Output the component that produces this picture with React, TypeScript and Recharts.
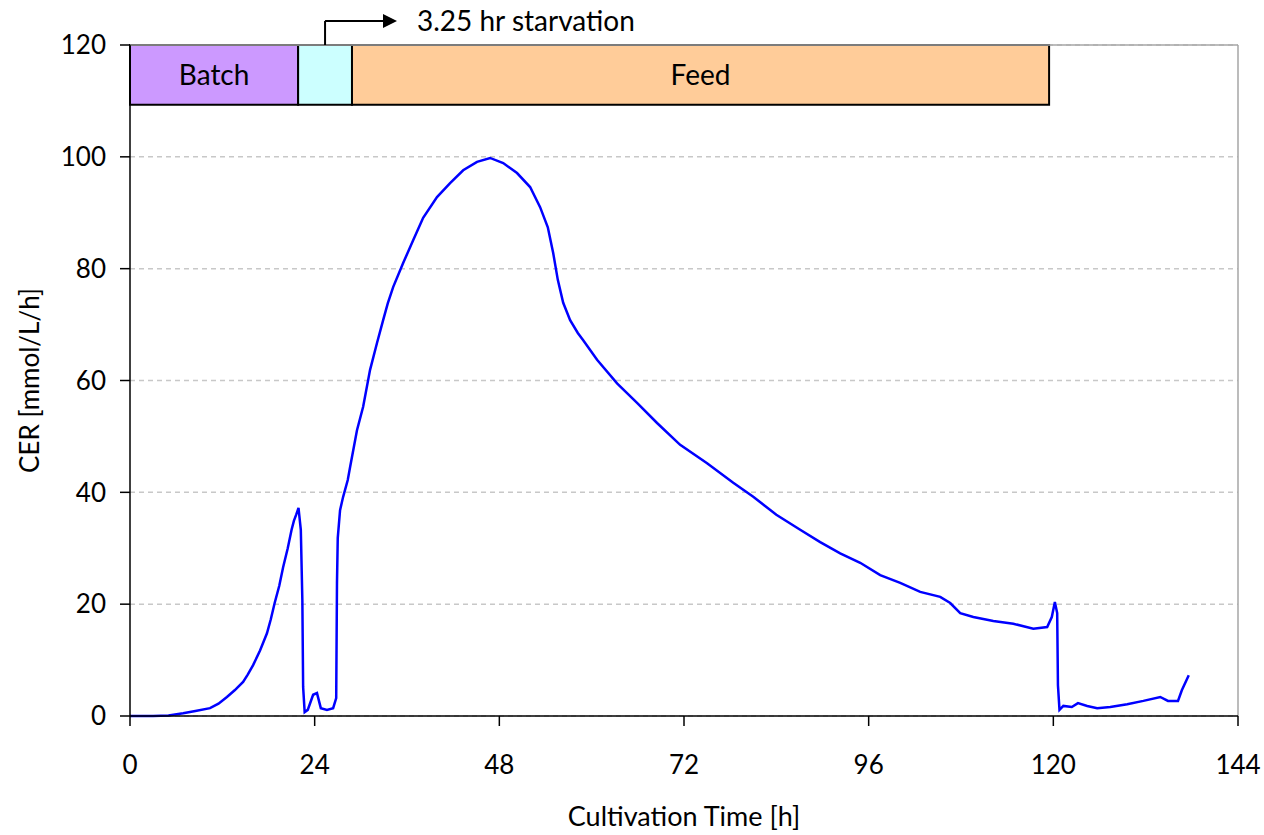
import React from 'react'
import { LineChart, Line, XAxis, YAxis, CartesianGrid, ReferenceArea, ReferenceLine } from 'recharts'

// cultivation time [h] and CER [mmol/L/h]
const time = [
  0, 3, 5, 6.9, 8.5, 10.4, 11.5, 12.6, 13.6, 14.7, 15.3, 16.0, 16.9, 17.8, 18.3, 18.8, 19.4, 19.9, 20.5, 21.0,
  21.3, 21.6, 21.9, 22.2, 22.4, 22.5, 22.7, 23.1, 23.8, 24.3, 24.8, 25.6, 26.4, 26.8, 26.9, 27.0, 27.3, 27.7,
  28.3, 28.6, 29.5, 30.3, 31.2, 32.1, 32.9, 33.5, 34.2, 35.5, 36.8, 38.1, 39.9, 41.6, 43.3, 45.1, 46.8, 48.5,
  50.3, 52.0, 53.3, 54.3, 55.0, 55.6, 56.3, 57.2, 58.2, 58.9, 60.7, 63.3, 65.9, 68.5, 71.5, 75.0, 78.4, 81.0,
  84, 87.1, 89.7, 92.3, 94.9, 97.5, 100.1, 102.7, 105.3, 106.6, 107.9, 109.6, 112.2, 114.8, 117.4, 119.2, 119.8,
  120.2, 120.5, 120.6, 120.8, 121.3, 122.4, 123.2, 124.4, 125.7, 127.4, 129.6, 131.7, 133.9, 134.9, 136.2,
  136.7, 137.6,
]
const cer = [
  0, 0, 0.1, 0.5, 0.9, 1.4, 2.2, 3.4, 4.6, 6.1, 7.4, 9.1, 11.7, 14.8, 17.3, 20.2, 23.3, 26.6, 30.0, 33.3,
  34.9, 36.0, 37.2, 33.3, 20.7, 5.2, 0.7, 1.1, 3.8, 4.1, 1.4, 1.1, 1.4, 3.2, 23.8, 31.8, 36.8, 39.2,
  42.2, 44.5, 51.1, 55.3, 61.9, 66.7, 70.8, 73.8, 76.7, 81.0, 85.1, 89.1, 92.8, 95.3, 97.6, 99.1, 99.8, 98.9,
  97.1, 94.6, 91.0, 87.4, 82.8, 78.0, 73.9, 70.8, 68.5, 67.2, 63.7, 59.5, 56.0, 52.4, 48.5, 45.2, 41.7, 39.2,
  36.0, 33.3, 31.1, 29.1, 27.4, 25.2, 23.8, 22.2, 21.3, 20.2, 18.4, 17.7, 17.0, 16.5, 15.6, 15.9, 17.7,
  20.4, 18.4, 5.5, 1.1, 1.8, 1.6, 2.3, 1.8, 1.4, 1.6, 2.1, 2.7, 3.4, 2.7, 2.7,
  4.6, 7.3,
]

const xTicks = [0, 24, 48, 72, 96, 120, 144]
const yTicks = [0, 20, 40, 60, 80, 100, 120]

// process phases drawn as the bar along the top
const phaseNames = ['Batch', '', 'Feed']
const phaseStart = [0, 21.85, 28.85]
const phaseEnd = [21.85, 28.85, 119.45]
const phaseColors = ['#CC99FF', '#CCFFFF', '#FFCC99']
const phaseTop = 120
const phaseBottom = 109.3

// starvation callout arrow
const arrowX = 25.35
const arrowTipX = 34.7
const arrowY = 124.3
const arrowLabel = '3.25 hr starvation'

const data = time.map((t, i) => ({ t, cer: cer[i] }))

const FONT = 'Lato, "Open Sans", sans-serif'

const ArrowHead = (props: any) => {
  const { x1, y1, x2, y2 } = props
  return (
    <g>
      <line x1={x1} y1={y1} x2={x2 - 12} y2={y2} stroke="#000" strokeWidth={2} />
      <polygon points={`${x2},${y2} ${x2 - 14},${y2 - 7} ${x2 - 14},${y2 + 7}`} fill="#000" />
      <text x={x2 + 20} y={y2} dy="0.35em" fontSize={28} fill="#000" fontFamily={FONT}>
        {arrowLabel}
      </text>
    </g>
  )
}

export default function App() {
  return (
    <div style={{ position: 'absolute', left: 0, top: 0, background: '#fff' }}>
      <LineChart
        width={1264}
        height={835}
        data={data}
        margin={{ top: 45, right: 26, left: 0, bottom: 0 }}
        style={{ fontFamily: FONT }}
      >
        <CartesianGrid vertical={false} stroke="#c8c8c8" strokeDasharray="5 4" strokeWidth={1.5} />
        <ReferenceLine y={120} stroke="#a6a6a6" strokeWidth={1.5} />
        <ReferenceLine x={144} stroke="#a6a6a6" strokeWidth={1.5} />
        <XAxis
          dataKey="t"
          type="number"
          domain={[0, 144]}
          ticks={xTicks}
          height={119}
          tickSize={10}
          tickMargin={30}
          stroke="#000"
          axisLine={{ stroke: '#000', strokeWidth: 1.5 }}
          tickLine={{ stroke: '#000', strokeWidth: 1.5 }}
          tick={{ fontSize: 26, fill: '#000' }}
          label={{ value: 'Cultivation Time [h]', position: 'insideBottom', offset: 9, fontSize: 27, fill: '#000' }}
        />
        <YAxis
          type="number"
          domain={[0, 120]}
          ticks={yTicks}
          width={130}
          tickSize={10}
          tickMargin={14}
          axisLine={{ stroke: '#000', strokeWidth: 1.5 }}
          tickLine={{ stroke: '#000', strokeWidth: 1.5 }}
          tick={{ fontSize: 26, fill: '#000' }}
          label={{
            value: 'CER [mmol/L/h]',
            angle: -90,
            position: 'insideLeft',
            offset: 30,
            fontSize: 26,
            fill: '#000',
            style: { textAnchor: 'middle' },
          }}
        />
        {phaseNames.map((name, i) => (
          <ReferenceArea
            key={i}
            x1={phaseStart[i]}
            x2={phaseEnd[i]}
            y1={phaseBottom}
            y2={phaseTop}
            fill={phaseColors[i]}
            fillOpacity={1}
            stroke="#000"
            strokeWidth={2}
            label={name ? { value: name, position: 'center', fontSize: 28, fill: '#000' } : undefined}
          />
        ))}
        <ReferenceLine
          segment={[{ x: arrowX, y: phaseTop }, { x: arrowX, y: arrowY }]}
          stroke="#000"
          strokeWidth={2}
          ifOverflow="visible"
        />
        <ReferenceLine
          segment={[{ x: arrowX, y: arrowY }, { x: arrowTipX, y: arrowY }]}
          stroke="#000"
          strokeWidth={2}
          ifOverflow="visible"
          shape={ArrowHead}
        />
        <Line
          type="linear"
          dataKey="cer"
          stroke="#0000FF"
          strokeWidth={2.5}
          dot={false}
          isAnimationActive={false}
        />
      </LineChart>
    </div>
  )
}
